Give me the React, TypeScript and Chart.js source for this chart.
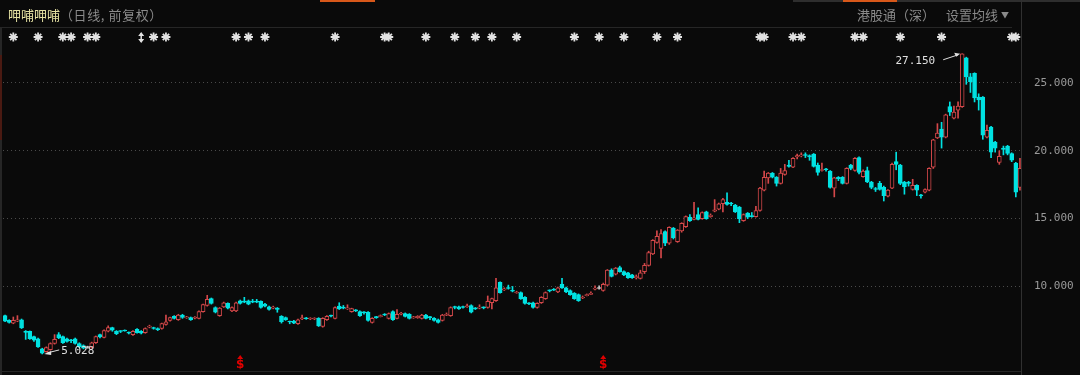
import React, { useEffect, useRef } from 'react';
import { Chart, registerables } from 'chart.js';

Chart.register(...registerables);

// ---- Data (daily K-line, forward adjusted) ----
const opens = [
  7.85, 7.5, 7.3, 7.45, 7.55, 6.7, 6.7, 6.3, 6.15, 5.4,
  5.2, 5.35, 5.8, 6.45, 6.3, 6.15, 6.05, 6.15, 5.8, 5.65,
  5.5, 5.5, 5.85, 6.45, 6.25, 6.7, 6.97, 6.7, 6.72, 6.78,
  6.62, 6.45, 6.85, 6.7, 6.6, 7.0, 6.97, 6.9, 6.9, 7.2,
  7.5, 7.8, 7.55, 7.9, 7.68, 7.7, 7.66, 7.65, 8.15, 8.6,
  9.1, 8.45, 7.85, 8.5, 8.75, 8.2, 8.2, 8.95, 8.92, 8.95,
  8.9, 8.9, 8.9, 8.7, 8.5, 8.4, 8.4, 7.8, 7.7, 7.42,
  7.45, 7.25, 7.6, 7.68, 7.6, 7.6, 7.65, 7.05, 7.55, 7.88,
  7.65, 8.55, 8.45, 8.35, 8.15, 8.25, 8.15, 8.1, 8.1, 7.35,
  7.75, 7.78, 7.95, 7.65, 8.15, 7.65, 7.95, 8.0, 7.95, 7.68,
  7.7, 7.65, 7.9, 7.75, 7.65, 7.55, 7.5, 7.88, 7.85, 8.5,
  8.5, 8.5, 8.5, 8.6, 8.4, 8.4, 8.48, 8.45, 8.8, 8.95,
  10.3, 9.75, 9.9, 9.7, 9.52, 9.55, 9.2, 8.78, 8.8, 8.45,
  8.8, 9.1, 9.72, 9.78, 9.6, 10.15, 9.9, 9.7, 9.5, 9.4,
  9.15, 9.32, 9.42, 9.8, 9.85, 9.7, 10.1, 11.2, 10.9, 11.4,
  11.1, 11.0, 10.85, 10.65, 10.6, 11.1, 11.55, 12.4, 13.25, 12.8,
  14.05, 13.2, 14.3, 13.3, 14.1, 14.4, 15.1, 14.95, 15.3, 15.0,
  15.5, 15.15, 15.55, 15.7, 16.1, 16.2, 16.15, 16.0, 15.85, 14.85,
  15.4, 15.2, 15.15, 15.6, 17.1, 18.0, 18.35, 18.05, 17.6, 18.25,
  18.95, 18.8, 19.55, 19.62, 19.72, 19.65, 19.75, 18.95, 18.55, 18.65,
  18.5, 17.25, 18.05, 18.05, 17.6, 18.95, 18.55, 19.5, 18.1, 18.55,
  17.7, 17.2, 17.6, 17.3, 16.65, 17.25, 19.2, 18.95, 17.7, 17.65,
  17.15, 17.45, 16.75, 16.95, 17.1, 18.8, 20.95, 21.6, 21.0, 23.25,
  22.4, 23.0, 23.25, 26.85, 25.45, 25.7, 23.95, 23.95, 21.0, 21.75,
  20.65, 19.15, 20.2, 20.35, 19.8, 19.1, 17.3,
];
const highs = [
  7.9, 7.55, 7.75, 7.85, 7.6, 6.75, 6.72, 6.35, 6.2, 5.45,
  5.55, 5.85, 6.45, 6.6, 6.35, 6.2, 6.1, 6.2, 5.85, 5.7,
  5.6, 5.9, 6.35, 6.5, 6.8, 7.1, 7.0, 6.75, 6.75, 6.8,
  6.65, 6.75, 6.9, 6.75, 6.95, 7.15, 7.0, 6.95, 7.3, 7.9,
  7.75, 7.85, 7.95, 7.95, 7.8, 7.75, 7.78, 8.2, 8.7, 9.35,
  9.15, 8.5, 8.45, 8.85, 8.8, 8.5, 8.85, 9.0, 9.2, 9.0,
  9.05, 9.05, 8.95, 8.75, 8.55, 8.55, 8.45, 7.85, 7.75, 7.45,
  7.5, 7.6, 7.9, 7.72, 7.7, 7.7, 7.7, 7.7, 7.85, 7.9,
  8.5, 8.8, 8.6, 8.65, 8.4, 8.3, 8.2, 8.15, 8.15, 7.7,
  7.8, 7.9, 8.0, 8.05, 8.2, 8.3, 8.1, 8.05, 8.0, 7.8,
  7.85, 7.95, 7.95, 7.8, 7.7, 7.6, 7.95, 8.05, 8.5, 8.55,
  8.55, 8.55, 8.7, 8.65, 8.45, 8.65, 8.5, 9.3, 9.15, 10.6,
  10.35, 9.9, 10.1, 10.0, 9.65, 9.6, 9.25, 8.82, 8.85, 8.8,
  9.25, 9.6, 9.75, 9.85, 9.95, 10.6, 9.95, 9.75, 9.55, 9.45,
  9.3, 9.45, 9.6, 10.05, 10.05, 10.25, 11.25, 11.3, 11.4, 11.5,
  11.15, 11.05, 10.9, 10.85, 11.2, 11.7, 12.6, 13.45, 14.1, 14.2,
  14.1, 14.4, 14.35, 14.2, 14.7, 15.2, 15.3, 16.2, 15.8, 15.5,
  15.55, 15.35, 16.4, 16.15, 16.5, 16.9, 16.2, 16.05, 15.9, 15.35,
  15.45, 15.45, 15.9, 17.3, 18.5, 18.4, 18.4, 18.1, 18.7, 19.0,
  19.3, 19.5, 19.75, 19.85, 19.85, 19.7, 19.8, 19.1, 19.1, 18.7,
  18.55, 18.05, 18.1, 18.1, 18.75, 19.0, 19.5, 19.55, 18.6, 18.8,
  17.75, 17.3, 17.75, 17.4, 17.15, 19.1, 19.9, 19.0, 17.75, 17.75,
  17.9, 17.5, 16.8, 17.2, 18.75, 20.85, 22.0, 22.1, 22.7, 23.6,
  23.3, 23.6, 27.15, 26.9, 25.7, 25.75, 24.2, 24.0, 21.9, 21.8,
  20.7, 20.0, 20.35, 20.4, 19.85, 19.15, 19.45,
];
const lows = [
  7.4, 7.3, 7.25, 7.4, 6.9, 6.1, 6.1, 5.95, 5.5, 5.028,
  5.15, 5.3, 5.75, 6.15, 5.8, 5.9, 5.85, 5.75, 5.5, 5.4,
  5.45, 5.45, 5.8, 6.2, 6.2, 6.65, 6.7, 6.45, 6.6, 6.7,
  6.5, 6.4, 6.55, 6.5, 6.55, 6.95, 6.85, 6.75, 6.85, 7.15,
  7.45, 7.6, 7.5, 7.65, 7.65, 7.5, 7.6, 7.6, 8.1, 8.55,
  8.7, 8.05, 7.8, 8.45, 8.35, 8.15, 8.15, 8.7, 8.8, 8.65,
  8.8, 8.8, 8.4, 8.5, 8.25, 8.35, 8.1, 7.3, 7.5, 7.25,
  7.25, 7.2, 7.55, 7.58, 7.55, 7.55, 7.05, 7.0, 7.5, 7.75,
  7.6, 8.3, 8.35, 8.3, 8.1, 8.15, 7.8, 7.95, 7.45, 7.3,
  7.65, 7.75, 7.85, 7.6, 7.5, 7.6, 7.9, 7.75, 7.6, 7.65,
  7.65, 7.6, 7.6, 7.55, 7.45, 7.3, 7.45, 7.85, 7.8, 8.35,
  8.3, 8.4, 8.45, 8.05, 8.3, 8.35, 8.35, 8.4, 8.35, 8.9,
  9.5, 9.7, 9.8, 9.6, 9.5, 9.05, 8.7, 8.65, 8.4, 8.4,
  8.75, 9.05, 9.6, 9.7, 9.55, 9.85, 9.55, 9.35, 9.05, 8.9,
  9.1, 9.3, 9.4, 9.75, 9.8, 9.65, 10.05, 10.7, 10.85, 11.05,
  10.8, 10.6, 10.6, 10.55, 10.55, 10.95, 11.5, 12.35, 13.2, 12.1,
  13.0, 13.1, 13.5, 13.25, 14.0, 14.35, 14.8, 14.9, 14.9, 14.95,
  14.95, 15.1, 15.5, 15.65, 15.5, 16.0, 15.95, 15.45, 14.7, 14.8,
  15.0, 15.1, 15.1, 15.55, 17.05, 17.6, 18.0, 17.4, 17.55, 18.2,
  18.8, 18.75, 19.4, 19.55, 19.5, 19.3, 18.8, 18.2, 18.5, 18.5,
  17.25, 16.6, 17.8, 17.55, 17.55, 18.6, 18.5, 18.3, 18.05, 17.65,
  17.2, 17.0, 17.1, 16.3, 16.6, 17.2, 18.6, 17.5, 16.8, 17.4,
  17.1, 16.7, 16.5, 16.9, 17.05, 18.7, 20.9, 20.2, 20.95, 22.6,
  22.35, 22.4, 23.2, 24.9, 24.3, 23.6, 23.0, 20.85, 20.95, 19.5,
  19.9, 19.0, 19.7, 19.7, 19.2, 16.6, 17.1,
];
const closes = [
  7.45, 7.35, 7.5, 7.55, 6.95, 6.62, 6.15, 6.05, 5.55, 5.08,
  5.5, 5.8, 6.1, 6.2, 5.85, 5.95, 6.0, 5.8, 5.55, 5.45,
  5.5, 5.85, 6.3, 6.28, 6.75, 6.97, 6.78, 6.52, 6.68, 6.72,
  6.56, 6.7, 6.6, 6.55, 6.9, 7.08, 6.9, 6.82, 7.27, 7.4,
  7.7, 7.65, 7.9, 7.72, 7.75, 7.55, 7.72, 8.15, 8.67, 9.05,
  8.75, 8.1, 8.4, 8.8, 8.4, 8.45, 8.8, 8.75, 8.85, 8.7,
  8.85, 8.85, 8.45, 8.55, 8.3, 8.48, 8.3, 7.4, 7.55, 7.38,
  7.3, 7.55, 7.68, 7.62, 7.66, 7.66, 7.1, 7.65, 7.8, 7.82,
  8.45, 8.35, 8.4, 8.42, 8.37, 8.2, 7.85, 8.05, 7.5, 7.65,
  7.7, 7.85, 7.9, 8.0, 7.55, 7.95, 8.02, 7.8, 7.65, 7.72,
  7.8, 7.9, 7.65, 7.7, 7.5, 7.35, 7.9, 7.95, 8.45, 8.45,
  8.35, 8.45, 8.58, 8.1, 8.35, 8.48, 8.42, 8.9, 9.1, 9.9,
  9.55, 9.82, 9.85, 9.65, 9.58, 9.1, 8.75, 8.72, 8.45, 8.75,
  9.2, 9.55, 9.68, 9.72, 9.9, 9.9, 9.6, 9.4, 9.1, 8.95,
  9.22, 9.38, 9.5, 9.85, 9.85, 10.15, 11.2, 10.75, 11.35, 11.1,
  10.85, 10.65, 10.65, 10.72, 11.0, 11.55, 12.5, 13.4, 13.7, 13.9,
  13.2, 14.35, 13.6, 14.15, 14.65, 15.15, 14.85, 15.05, 14.95, 15.45,
  15.0, 15.25, 15.65, 16.1, 16.4, 16.05, 16.08, 15.5, 15.0, 15.3,
  15.1, 15.15, 15.6, 17.25, 18.05, 18.35, 18.05, 17.6, 18.35, 18.55,
  18.85, 19.45, 19.65, 19.7, 19.65, 19.55, 18.85, 18.4, 18.6, 18.6,
  17.3, 18.0, 17.95, 17.6, 18.7, 18.7, 19.45, 18.4, 18.5, 17.7,
  17.3, 17.15, 17.15, 16.7, 17.1, 19.0, 19.0, 17.6, 17.35, 17.6,
  17.45, 17.1, 16.68, 17.15, 18.7, 20.8, 21.3, 21.0, 22.65, 22.85,
  22.85, 23.3, 27.15, 25.45, 25.1, 23.9, 23.75, 21.15, 21.5, 19.9,
  20.2, 19.6, 20.1, 19.8, 19.3, 16.95, 18.7,
];
const dayLabels = closes.map((_, i) => `D${i + 1}`);
const yTickValues = [10, 15, 20, 25];
const eventIdx = [2, 8, 14, 16, 20, 22, 36, 39, 56, 59, 63, 80, 92, 93, 102, 109, 114, 118, 124, 138, 144, 150, 158, 163, 183, 184, 191, 193, 206, 208, 217, 227, 244, 245];
const arrowEventIdx = [33];
const splitIdx = [57, 145];

const BG = '#0a0a0a';
const RED = '#d4484a';
const CYAN = '#00e2e2';
const GRAY = '#c8c8c8';

const candleColor = (i: number) =>
  closes[i] > opens[i] ? RED : closes[i] < opens[i] ? CYAN : GRAY;

function drawStar(ctx: CanvasRenderingContext2D, x: number, y: number, r: number) {
  ctx.beginPath();
  for (let k = 0; k < 4; k++) {
    const a = (Math.PI / 4) * k;
    ctx.moveTo(x - Math.cos(a) * r, y - Math.sin(a) * r);
    ctx.lineTo(x + Math.cos(a) * r, y + Math.sin(a) * r);
  }
  ctx.stroke();
}

const overlayPlugin = {
  id: 'overlay',
  afterDatasetsDraw(chart: any) {
    const ctx: CanvasRenderingContext2D = chart.ctx;
    const xs = chart.scales.x;
    const ys = chart.scales.y;
    ctx.save();
    // event markers
    ctx.strokeStyle = '#e2e2e2';
    ctx.lineWidth = 1.8;
    eventIdx.forEach((i) => drawStar(ctx, xs.getPixelForValue(i), 37, 4.5));
    ctx.fillStyle = '#e2e2e2';
    arrowEventIdx.forEach((i) => {
      const x = xs.getPixelForValue(i);
      ctx.fillRect(x - 0.75, 33, 1.5, 9);
      ctx.beginPath();
      ctx.moveTo(x - 3, 36); ctx.lineTo(x, 32); ctx.lineTo(x + 3, 36); ctx.closePath();
      ctx.moveTo(x - 3, 39); ctx.lineTo(x, 43); ctx.lineTo(x + 3, 39); ctx.closePath();
      ctx.fill();
    });
    // split / dividend markers
    ctx.fillStyle = '#e00000';
    ctx.font = 'bold 12px "DejaVu Sans"';
    ctx.textAlign = 'center';
    ctx.textBaseline = 'bottom';
    splitIdx.forEach((i) => {
      const x = xs.getPixelForValue(i);
      ctx.fillText('$', x, 371);
      ctx.beginPath();
      ctx.moveTo(x - 3, 359); ctx.lineTo(x, 355); ctx.lineTo(x + 3, 359); ctx.closePath();
      ctx.fill();
    });
    // high / low annotations
    let hi = 0, lo = 0;
    highs.forEach((v, i) => { if (v > highs[hi]) hi = i; });
    lows.forEach((v, i) => { if (v < lows[lo]) lo = i; });
    ctx.strokeStyle = '#e0e0e0';
    ctx.fillStyle = '#e0e0e0';
    ctx.lineWidth = 1;
    ctx.font = '11px "DejaVu Sans Mono"';
    ctx.textBaseline = 'middle';
    {
      const x = xs.getPixelForValue(hi) - 2;
      const y = ys.getPixelForValue(highs[hi]);
      ctx.beginPath(); ctx.moveTo(x - 17, y + 6); ctx.lineTo(x - 2, y + 1); ctx.stroke();
      ctx.beginPath(); ctx.moveTo(x, y); ctx.lineTo(x - 6, y - 1); ctx.lineTo(x - 4, y + 3); ctx.closePath(); ctx.fill();
      ctx.textAlign = 'right';
      ctx.fillText(highs[hi].toFixed(3), x - 25, y + 7);
    }
    {
      const x = xs.getPixelForValue(lo) + 2;
      const y = ys.getPixelForValue(lows[lo]);
      ctx.beginPath(); ctx.moveTo(x + 3, y - 1); ctx.lineTo(x + 15, y - 4); ctx.stroke();
      ctx.beginPath(); ctx.moveTo(x, y); ctx.lineTo(x + 7, y - 3); ctx.lineTo(x + 7, y + 1); ctx.closePath(); ctx.fill();
      ctx.textAlign = 'left';
      ctx.fillText(lows[lo].toFixed(3), x + 17, y - 3);
    }
    ctx.restore();
  },
};

export default function App() {
  const ref = useRef<HTMLCanvasElement>(null);
  useEffect(() => {
    const chart = new Chart(ref.current!, {
      type: 'bar',
      data: {
        labels: dayLabels,
        datasets: [
          {
            label: 'body',
            data: opens.map((o, i) => [o, closes[i]]) as any,
            backgroundColor: opens.map((_, i) => (closes[i] > opens[i] ? BG : candleColor(i))),
            borderColor: opens.map((_, i) => candleColor(i)),
            borderWidth: 1,
            borderSkipped: false,
            barThickness: 4,
            minBarLength: 1,
            grouped: false,
          } as any,
          {
            label: 'wick',
            data: lows.map((l, i) => [l, highs[i]]) as any,
            backgroundColor: lows.map((_, i) => candleColor(i)),
            borderWidth: 0,
            barThickness: 1,
            grouped: false,
          } as any,
        ],
      },
      options: {
        responsive: false,
        animation: false,
        events: [],
        layout: { padding: { left: 3, top: 28, bottom: 4, right: 0 } },
        plugins: { legend: { display: false }, tooltip: { enabled: false } },
        scales: {
          x: { display: false, offset: true, grid: { display: false } },
          y: {
            position: 'right',
            min: 3.77,
            max: 29.05,
            afterFit: (s: any) => { s.width = 58; s.paddingTop = 0; s.paddingBottom = 0; },
            afterBuildTicks: (s: any) => { s.ticks = yTickValues.map((v) => ({ value: v })); },
            grid: { color: '#4a4a4a', lineWidth: 1, drawTicks: false },
            border: { display: false, dash: [1, 3] },
            ticks: {
              color: '#9a9a9a',
              font: { family: '"DejaVu Sans Mono", monospace', size: 11 },
              padding: 12,
              callback: (v: any) => Number(v).toFixed(3),
            },
          },
        },
      } as any,
      plugins: [overlayPlugin],
    });
    return () => chart.destroy();
  }, []);

  const cjk = '"Noto Sans CJK SC", "Noto Sans", sans-serif';
  const line = (s: React.CSSProperties) => <div style={{ position: 'absolute', ...s }} />;
  return (
    <div style={{ position: 'fixed', left: 0, top: 0, width: 1080, height: 375, background: BG, overflow: 'hidden' }}>
      <canvas ref={ref} width={1080} height={375} style={{ position: 'absolute', left: 0, top: 0, width: 1080, height: 375 }} />
      {line({ left: 320, top: 0, width: 55, height: 2, background: '#d8581a' })}
      {line({ left: 793, top: 0, width: 287, height: 2, background: '#2e2e2e' })}
      {line({ left: 843, top: 0, width: 54, height: 2, background: '#d8581a' })}
      {line({ left: 0, top: 27, width: 1012, height: 1, background: '#262626' })}
      {line({ left: 1021, top: 0, width: 1, height: 375, background: '#303030' })}
      {line({ left: 0, top: 371, width: 1021, height: 1, background: '#262626' })}
      {line({ left: 0, top: 28, width: 2, height: 347, background: '#262626' })}
      {line({ left: 0, top: 55, width: 2, height: 85, background: '#4a1a12' })}
      <div style={{ position: 'absolute', left: 8, top: 6, lineHeight: '18px', fontSize: 13, fontFamily: cjk, whiteSpace: 'nowrap' }}>
        <span style={{ color: '#e4e0a2' }}>呷哺呷哺</span>
        <span style={{ color: '#8a8a8a', letterSpacing: 0.6 }}>（日线, 前复权）</span>
      </div>
      <div style={{ position: 'absolute', left: 857, top: 6, lineHeight: '18px', fontSize: 13, fontFamily: cjk, color: '#8a8a8a', whiteSpace: 'nowrap' }}>
        港股通（深）
      </div>
      <div style={{ position: 'absolute', left: 946, top: 6, lineHeight: '18px', fontSize: 13, fontFamily: cjk, color: '#8a8a8a', whiteSpace: 'nowrap' }}>
        设置均线 <span style={{ fontSize: 8, position: 'relative', top: -2 }}>▼</span>
      </div>
    </div>
  );
}
